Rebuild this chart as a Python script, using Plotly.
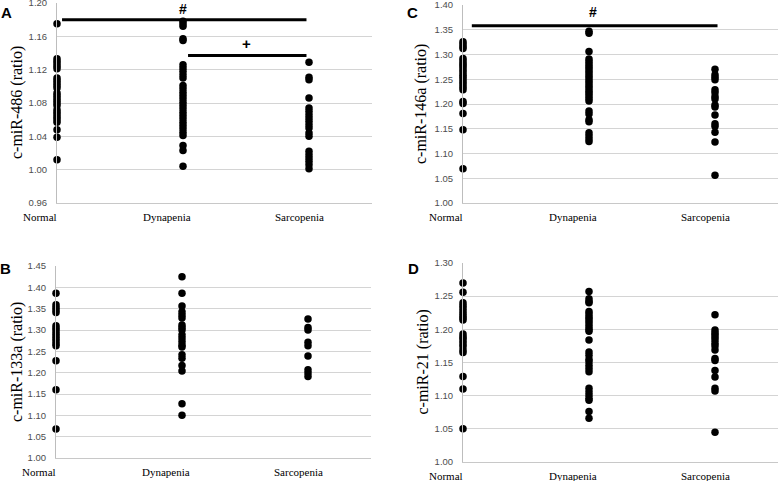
import plotly.graph_objects as go

categories = ["Normal", "Dynapenia", "Sarcopenia"]

# Panel A: c-miR-486
a_normal = [1.175, 1.133, 1.130, 1.127, 1.124, 1.121, 1.110, 1.107, 1.104, 1.101, 1.098,
            1.092, 1.089, 1.086, 1.083, 1.080, 1.077, 1.072, 1.069, 1.066, 1.063, 1.060,
            1.057, 1.048, 1.039, 1.012]
a_dynapenia = [1.178, 1.175, 1.172, 1.157, 1.155, 1.126, 1.122, 1.118, 1.114, 1.110, 1.101,
               1.097, 1.093, 1.089, 1.085, 1.081, 1.077, 1.073, 1.069, 1.065, 1.061, 1.057,
               1.053, 1.049, 1.045, 1.041, 1.029, 1.023, 1.004]
a_sarcopenia = [1.129, 1.111, 1.108, 1.086, 1.074, 1.070, 1.066, 1.062, 1.058, 1.054, 1.050,
                1.044, 1.040, 1.022, 1.018, 1.014, 1.010, 1.006, 1.001]

# Panel C: c-miR-146a
c_normal = [1.326, 1.321, 1.316, 1.312, 1.292, 1.287, 1.282, 1.278, 1.273, 1.268, 1.263,
            1.258, 1.254, 1.249, 1.244, 1.239, 1.234, 1.229, 1.205, 1.201, 1.181, 1.148, 1.069]
c_dynapenia = [1.347, 1.343, 1.306, 1.291, 1.286, 1.281, 1.276, 1.271, 1.266, 1.261, 1.256,
               1.251, 1.246, 1.241, 1.236, 1.231, 1.226, 1.221, 1.216, 1.211, 1.206, 1.186,
               1.180, 1.168, 1.164, 1.142, 1.136, 1.130, 1.124]
c_sarcopenia = [1.270, 1.259, 1.254, 1.249, 1.229, 1.223, 1.215, 1.210, 1.198, 1.194, 1.178,
                1.160, 1.155, 1.143, 1.123, 1.056]

# Panel B: c-miR-133a
b_normal = [1.386, 1.359, 1.353, 1.347, 1.341, 1.310, 1.304, 1.298, 1.292, 1.286, 1.280,
            1.274, 1.268, 1.263, 1.228, 1.160, 1.068]
b_dynapenia = [1.425, 1.386, 1.356, 1.343, 1.335, 1.328, 1.312, 1.306, 1.300, 1.289, 1.281,
               1.273, 1.265, 1.260, 1.242, 1.234, 1.217, 1.204, 1.127, 1.100]
b_sarcopenia = [1.326, 1.306, 1.300, 1.271, 1.263, 1.239, 1.207, 1.199, 1.191]

# Panel D: c-miR-21
d_normal = [1.270, 1.256, 1.240, 1.236, 1.232, 1.228, 1.224, 1.220, 1.217, 1.214, 1.193,
            1.189, 1.186, 1.182, 1.178, 1.174, 1.169, 1.165, 1.129, 1.110, 1.050]
d_dynapenia = [1.257, 1.246, 1.242, 1.240, 1.227, 1.223, 1.219, 1.216, 1.212, 1.208, 1.204,
               1.200, 1.197, 1.184, 1.166, 1.161, 1.155, 1.151, 1.146, 1.141, 1.136, 1.111,
               1.106, 1.101, 1.096, 1.093, 1.076, 1.066]
d_sarcopenia = [1.222, 1.199, 1.195, 1.192, 1.188, 1.184, 1.179, 1.175, 1.169, 1.156, 1.153,
                1.138, 1.128, 1.111, 1.107, 1.045]

panels = [
    # letter, ytitle, groups, axis suffix, y range, dtick
    ("A", "c-miR-486 (ratio)", [a_normal, a_dynapenia, a_sarcopenia], "", [0.96, 1.20], 0.04),
    ("C", "c-miR-146a (ratio)", [c_normal, c_dynapenia, c_sarcopenia], "2", [1.00, 1.40], 0.05),
    ("B", "c-miR-133a (ratio)", [b_normal, b_dynapenia, b_sarcopenia], "3", [1.00, 1.45], 0.05),
    ("D", "c-miR-21 (ratio)", [d_normal, d_dynapenia, d_sarcopenia], "4", [1.00, 1.30], 0.05),
]

W, H = 778, 481
XMAX = 2.5
# plot-area pixel boxes (left, right, top, bottom)
boxes = {
    "": (57, 372, 3, 203),
    "2": (463, 778, 5, 203),
    "3": (56, 371, 266, 458),
    "4": (463, 778, 263, 462),
}
letter_pos = {"": (6, 13), "2": (412, 13), "3": (5, 268), "4": (413, 268)}
ytitle_x = {"": 17, "2": 421, "3": 17, "4": 422}
label_offsets = [-0.135, -0.125, -0.075]

fig = go.Figure()
layout = dict(
    width=W, height=H,
    margin=dict(l=0, r=0, t=0, b=0, pad=0),
    paper_bgcolor="white", plot_bgcolor="white",
    showlegend=False,
)
annotations = []
shapes = []

serif = "Liberation Serif, Times New Roman, serif"
sans = "Liberation Sans Narrow, Arial Narrow, Liberation Sans, sans-serif"
bold_sans = "Liberation Sans, Arial, sans-serif"

for letter, ytitle, groups, sfx, yr, dt in panels:
    l, r, t, b = boxes[sfx]
    xa = "xaxis" + sfx
    ya = "yaxis" + sfx
    xref = "x" + sfx
    yref = "y" + sfx
    for i, vals in enumerate(groups):
        fig.add_trace(go.Scatter(
            x=[i] * len(vals), y=vals, mode="markers",
            marker=dict(color="black", size=7.5),
            cliponaxis=False, xaxis=xref, yaxis=yref, hoverinfo="y",
        ))
    layout[xa] = dict(
        domain=[l / W, r / W], range=[0, XMAX], anchor=yref, automargin=False,
        showgrid=False, zeroline=False, showticklabels=False,
        showline=True, linecolor="#c8c8c8", linewidth=1,
    )
    layout[ya] = dict(
        domain=[1 - b / H, 1 - t / H], range=yr, dtick=dt, tick0=yr[0], anchor=xref,
        automargin=False, ticklabeloverflow="allow",
        tickformat=".2f", showgrid=True, gridcolor="#d4d4d4", gridwidth=1.2,
        zeroline=False, showline=True, linecolor="#bdbdbd", linewidth=1,
        ticks="", ticklabelstandoff=7,
        tickfont=dict(family=sans, size=9.5, color="#4d4d4d"),
    )
    # category labels
    for i, cat in enumerate(categories):
        annotations.append(dict(
            x=(i + label_offsets[i]) / XMAX, y=0, xref=xref + " domain", yref=yref + " domain",
            text=cat, showarrow=False, xanchor="center", yanchor="top", yshift=-6,
            font=dict(family=serif, size=11, color="black"),
        ))
    # y title
    annotations.append(dict(
        x=ytitle_x[sfx] / W, y=1 - (t + b) / 2 / H, xref="paper", yref="paper",
        text=ytitle, textangle=-90, showarrow=False, xanchor="center", yanchor="middle",
        font=dict(family=serif, size=16, color="black"),
    ))
    # panel letter
    lx, ly = letter_pos[sfx]
    annotations.append(dict(
        x=lx / W, y=1 - ly / H, xref="paper", yref="paper", text="<b>%s</b>" % letter,
        showarrow=False, xanchor="center", yanchor="middle",
        font=dict(family=bold_sans, size=15, color="black"),
    ))

# significance bars
shapes.append(dict(type="line", xref="x", yref="y", x0=0.04, x1=1.98, y0=1.180, y1=1.180,
                   line=dict(color="black", width=3)))
shapes.append(dict(type="line", xref="x", yref="y", x0=1.04, x1=1.98, y0=1.137, y1=1.137,
                   line=dict(color="black", width=3)))
shapes.append(dict(type="line", xref="x2", yref="y2", x0=0.07, x1=2.02, y0=1.358, y1=1.358,
                   line=dict(color="black", width=3)))
annotations.append(dict(x=1.0, y=1.193, xref="x", yref="y", text="<b>#</b>", showarrow=False,
                        font=dict(family=bold_sans, size=14, color="black")))
annotations.append(dict(x=1.5, y=1.151, xref="x", yref="y", text="<b>+</b>", showarrow=False,
                        font=dict(family=bold_sans, size=15, color="black")))
annotations.append(dict(x=1.03, y=1.385, xref="x2", yref="y2", text="<b>#</b>", showarrow=False,
                        font=dict(family=bold_sans, size=14, color="black")))

layout["annotations"] = annotations
layout["shapes"] = shapes
fig.update_layout(**layout)
fig.write_html("out.html", config={"displayModeBar": False},
               post_script="document.body.style.margin='0';")
